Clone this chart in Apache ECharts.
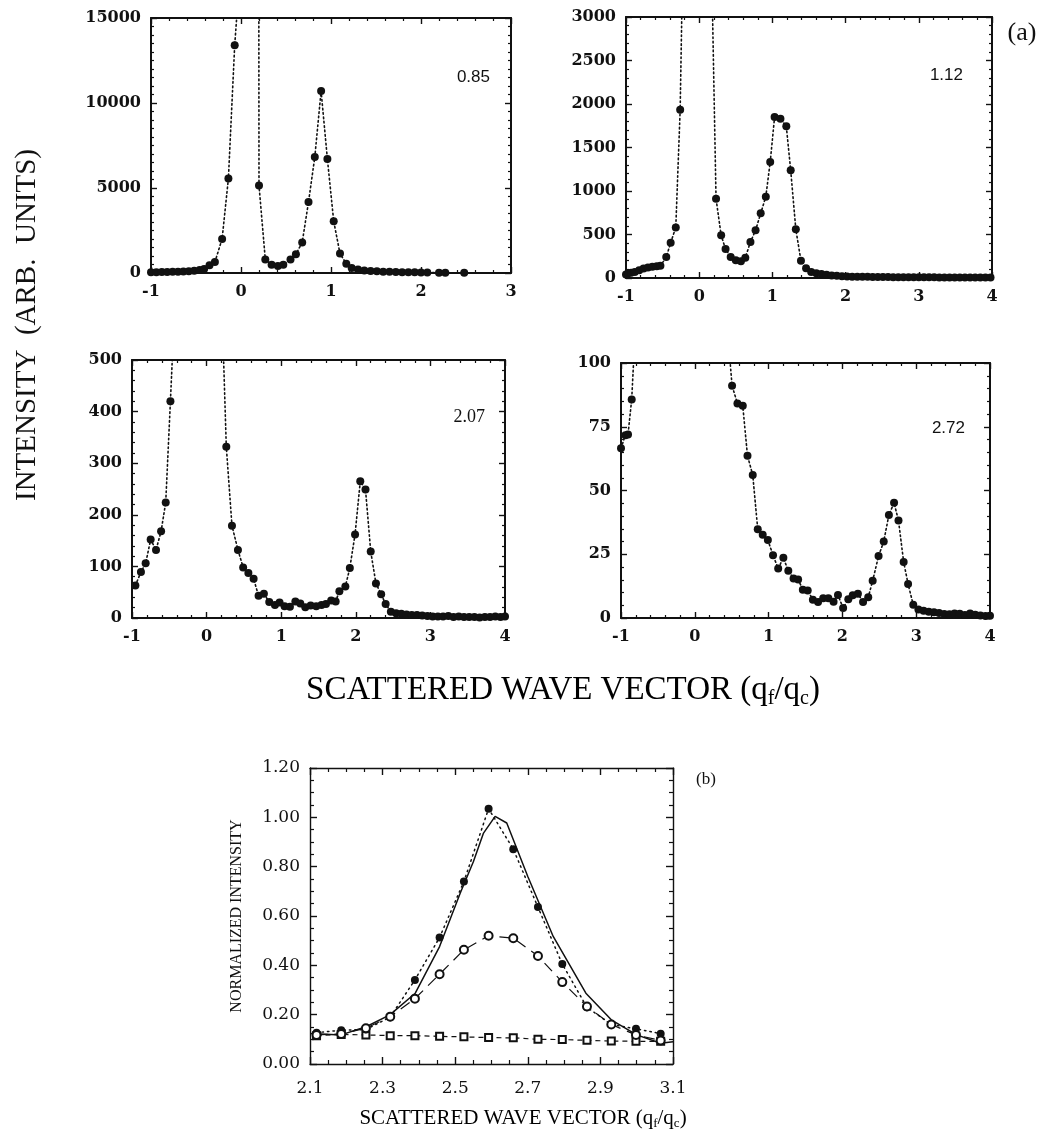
<!DOCTYPE html>
<html>
<head>
<meta charset="utf-8">
<script src="https://cdn.jsdelivr.net/npm/echarts@6/dist/echarts.min.js"></script>
<style>html,body{margin:0;padding:0;background:#fff}#c{width:1044px;height:1132px}</style>
</head>
<body>
<div id="c"></div>
<script>
// ---------- DATA ----------
// Panel (a) 0.85
const p1X = [-1.00,-0.94,-0.88,-0.82,-0.76,-0.70,-0.64,-0.58,-0.52,-0.46,-0.41,-0.35,-0.29,-0.21,-0.14,-0.07,0.00,0.07,0.13,0.20,0.27,0.34,0.41,0.47,0.55,0.61,0.68,0.75,0.82,0.89,0.96,1.03,1.10,1.17,1.23,1.30,1.37,1.44,1.51,1.58,1.65,1.72,1.79,1.86,1.93,2.00,2.07,2.20,2.27,2.48];
const p1Y = [40,50,55,60,70,80,90,110,130,170,240,450,650,2000,5560,13400,18500,400000,400000,5150,800,490,410,490,800,1100,1800,4170,6820,10700,6700,3050,1140,550,300,200,150,120,100,80,70,60,50,45,40,35,30,20,15,10];
// Panel (a) 1.12
const p2X = [-1.00,-0.97,-0.93,-0.88,-0.82,-0.76,-0.70,-0.64,-0.58,-0.53,-0.45,-0.39,-0.32,-0.26,-0.19,-0.12,-0.05,0.03,0.10,0.165,0.23,0.30,0.36,0.43,0.50,0.57,0.63,0.70,0.77,0.84,0.91,0.97,1.03,1.11,1.19,1.25,1.32,1.39,1.46,1.53,1.60,1.67,1.74,1.81,1.88,1.95,2.02,2.09,2.16,2.23,2.30,2.37,2.44,2.51,2.58,2.65,2.72,2.79,2.86,2.93,3.00,3.07,3.14,3.21,3.28,3.35,3.42,3.49,3.56,3.63,3.70,3.77,3.84,3.91,3.98];
const p2Y = [40,55,60,70,90,110,120,130,135,140,240,405,580,1935,5370,30000,200000,300000,60000,3800,912,490,333,241,203,192,234,414,548,743,935,1333,1851,1831,1743,1238,559,199,111,70,55,45,38,30,25,20,18,15,14,14,13,12,12,11,11,10,10,10,9,9,9,8,8,8,7,7,7,7,6,6,6,6,5,5,5];
// Panel (a) 2.07
const p3X = [-0.955,-0.88,-0.817,-0.75,-0.678,-0.61,-0.548,-0.485,-0.42,-0.35,-0.28,-0.21,-0.14,-0.07,0.00,0.06,0.13,0.195,0.264,0.34,0.42,0.49,0.56,0.63,0.697,0.768,0.84,0.916,0.978,1.045,1.117,1.19,1.256,1.323,1.395,1.47,1.54,1.60,1.67,1.73,1.78,1.86,1.92,1.99,2.06,2.13,2.20,2.27,2.34,2.40,2.47,2.54,2.61,2.68,2.75,2.82,2.89,2.96,3.03,3.10,3.17,3.24,3.31,3.38,3.45,3.52,3.59,3.66,3.73,3.80,3.87,3.94,4.00];
const p3Y = [63,89,106,152,132,168,224,420,630,1500,4500,20000,100000,300000,100000,10000,1500,655,332,179,132,98,87,76,43,47,31,25,30,23,22,32,28,21,24,23,25,27,34,32,52,61,97,162,265,249,129,67,46,27,12,9,8,7,6,6,5,4,3,3,3,4,2,3,2,2,2,1,2,2,3,2,3];
// Panel (a) 2.72
const p4X = [-1.00,-0.94,-0.905,-0.855,-0.79,-0.72,-0.65,-0.58,-0.51,-0.44,-0.37,-0.30,-0.23,-0.16,-0.09,-0.02,0.05,0.12,0.19,0.26,0.33,0.40,0.44,0.505,0.578,0.65,0.714,0.785,0.853,0.92,0.99,1.06,1.13,1.20,1.267,1.338,1.40,1.464,1.53,1.60,1.67,1.74,1.81,1.88,1.94,2.01,2.08,2.14,2.21,2.28,2.35,2.41,2.49,2.56,2.63,2.70,2.76,2.83,2.89,2.96,3.03,3.10,3.17,3.24,3.31,3.38,3.45,3.52,3.59,3.66,3.73,3.80,3.87,3.94,4.00];
const p4Y = [66.6,71.7,72,85.7,123,240,500,1200,3000,8000,20000,50000,100000,200000,400000,500000,300000,50000,5000,800,250,150,114,91.1,84.1,83.2,63.6,56.1,34.8,32.6,30.6,24.6,19.4,23.6,18.5,15.5,15.1,11.1,10.8,7.2,6.3,7.7,7.7,6.4,9,3.9,7.4,8.9,9.5,6.3,8.1,14.6,24.3,30,40.4,45.2,38.2,22,13.3,5.2,3.3,2.8,2.5,2.3,2.0,1.6,1.5,1.8,1.7,1.2,1.8,1.3,1.0,0.8,0.9];
const panelTags = ['0.85','1.12','2.07','2.72'];

// Panel (b)
const qB = [2.118,2.186,2.254,2.321,2.389,2.457,2.524,2.592,2.660,2.728,2.795,2.863,2.930,2.998,3.066];
const filledB = [0.127,0.137,0.140,0.190,0.341,0.513,0.740,1.035,0.871,0.636,0.405,0.230,0.160,0.143,0.123];
const openB   = [0.118,0.122,0.145,0.192,0.265,0.364,0.463,0.520,0.510,0.438,0.332,0.233,0.160,0.118,0.095];
const squareB = [0.115,0.120,0.118,0.115,0.115,0.112,0.110,0.107,0.106,0.100,0.099,0.096,0.093,0.092,0.092];
const fitX = [2.10,2.186,2.256,2.32,2.39,2.457,2.514,2.55,2.578,2.61,2.642,2.70,2.77,2.86,2.93,3.00,3.066,3.10];
const fitY = [0.124,0.118,0.152,0.199,0.287,0.476,0.693,0.82,0.936,1.004,0.977,0.760,0.517,0.287,0.179,0.118,0.084,0.090];

// ---------- LAYOUT ----------
const INK = '#111';
const grids = [
  {left:151, top:18, width:360, height:255},
  {left:626, top:17, width:366, height:261},
  {left:132, top:360, width:373, height:258},
  {left:621, top:363, width:369, height:255},
  {left:310, top:768, width:363, height:296}
];
const xRanges = [[-1,3,1],[-1,4,1],[-1,4,1],[-1,4,1],[2.1,3.1,0.2]];
const yRanges = [[0,15000,5000],[0,3000,500],[0,500,100],[0,100,25],[0,1.2,0.2]];
const xMinor = [5,5,5,5,4];
const yMinor = [10,5,5,5,4];

const zip = (a,b) => a.map((v,i)=>[v,b[i]]);
const xAxes = [], yAxes = [];
grids.forEach((g,gi)=>{
  const isB = gi===4;
  const lw = isB ? 1.4 : 2;
  const labA = {fontFamily:'DejaVu Serif', fontWeight:'bold', fontSize:16, color:INK};
  const labB = {fontFamily:'DejaVu Serif', fontSize:17, color:INK};
  const lab = isB ? labB : labA;
  ['bottom','top'].forEach((pos,k)=>{
    xAxes.push({
      gridIndex:gi, type:'value', position:pos,
      min:xRanges[gi][0], max:xRanges[gi][1], interval:xRanges[gi][2],
      axisLine:{show:true,onZero:false,lineStyle:{color:INK,width:lw}},
      axisTick:{show:true,inside:true,length:isB?7:6,lineStyle:{color:INK,width:1.4}},
      minorTick:{show:true,splitNumber:xMinor[gi],length:isB?4:3,lineStyle:{color:INK,width:1.2}},
      splitLine:{show:false}, minorSplitLine:{show:false},
      axisLabel:Object.assign({show:k===0, margin:isB?16:11,
        formatter:v=> isB ? v.toFixed(1) : String(Math.round(v))}, lab)
    });
  });
  ['left','right'].forEach((pos,k)=>{
    yAxes.push({
      gridIndex:gi, type:'value', position:pos,
      min:yRanges[gi][0], max:yRanges[gi][1], interval:yRanges[gi][2],
      axisLine:{show:true,onZero:false,lineStyle:{color:INK,width:lw}},
      axisTick:{show:true,inside:true,length:isB?7:6,lineStyle:{color:INK,width:1.4}},
      minorTick:{show:true,splitNumber:yMinor[gi],length:isB?4:3,lineStyle:{color:INK,width:1.2}},
      splitLine:{show:false}, minorSplitLine:{show:false},
      axisLabel:Object.assign({show:k===0, margin:10,
        formatter:v=> isB ? v.toFixed(2) : String(Math.round(v))}, lab)
    });
  });
});

const dotted = {color:INK, width:1.6, type:[1.6,2.8], cap:'round'};
const panelData = [[p1X,p1Y],[p2X,p2Y],[p3X,p3Y],[p4X,p4Y]];
const series = panelData.map((d,i)=>({
  type:'line', xAxisIndex:i*2, yAxisIndex:i*2, data:zip(d[0],d[1]),
  symbol:'circle', symbolSize:8, itemStyle:{color:INK},
  lineStyle:dotted, clip:true, silent:true, z:3
}));
series.push(
  {type:'line', xAxisIndex:8, yAxisIndex:8, data:zip(fitX,fitY), symbol:'none',
   lineStyle:{color:INK,width:1.5}, clip:true, z:2},
  {type:'line', xAxisIndex:8, yAxisIndex:8, data:zip(qB,squareB), symbol:'emptyRect', symbolSize:7,
   itemStyle:{color:INK, borderWidth:1.2}, lineStyle:{color:INK,width:1.2,type:[5,4]}, z:3},
  {type:'line', xAxisIndex:8, yAxisIndex:8, data:zip(qB,filledB), symbol:'circle', symbolSize:8,
   itemStyle:{color:INK}, lineStyle:{color:INK,width:1.5,type:[1.5,4],cap:'round'}, z:4},
  {type:'line', xAxisIndex:8, yAxisIndex:8, data:zip(qB,openB), symbol:'emptyCircle', symbolSize:8,
   itemStyle:{color:INK, borderWidth:1.2}, lineStyle:{color:INK,width:1.2,type:[11,7]}, z:5}
);

const tagPos = [[490,77,'Liberation Sans',17],[963,75,'Liberation Sans',17],[485,417,'Liberation Serif',18],[965,428,'Liberation Sans',17]];
const graphic = panelTags.map((t,i)=>({
  type:'text', x:tagPos[i][0], y:tagPos[i][1],
  style:{text:t, align:'right', verticalAlign:'middle', fill:INK, font:`${tagPos[i][3]}px "${tagPos[i][2]}"`}
}));
const subRich = (fs, lh) => ({
  a:{fontFamily:'Liberation Serif', fontSize:fs, lineHeight:lh, color:INK},
  s:{fontFamily:'Liberation Serif', fontSize:Math.round(fs*0.62), lineHeight:Math.round(fs*0.62), verticalAlign:'bottom', color:INK}
});
graphic.push(
  {type:'text', x:1022, y:33, style:{text:'(a)', align:'center', verticalAlign:'middle', fill:INK, font:'26px "Liberation Serif"'}},
  {type:'text', x:706, y:780, style:{text:'(b)', align:'center', verticalAlign:'middle', fill:INK, font:'17px "Liberation Serif"'}},
  {type:'text', x:27, y:325, rotation:Math.PI/2,
   style:{text:'INTENSITY  (ARB.  UNITS)', align:'center', verticalAlign:'middle', fill:INK, font:'29px "Liberation Serif"'}},
  {type:'text', x:237, y:916, rotation:Math.PI/2,
   style:{text:'NORMALIZED INTENSITY', align:'center', verticalAlign:'middle', fill:INK, font:'16px "Liberation Serif"'}},
  {type:'text', x:563, y:690,
   style:{text:'{a|SCATTERED WAVE VECTOR (q}{s|f}{a|/q}{s|c}{a|)}', align:'center', verticalAlign:'middle', rich:subRich(33,38)}},
  {type:'text', x:523, y:1118,
   style:{text:'{a|SCATTERED WAVE VECTOR (q}{s|f}{a|/q}{s|c}{a|)}', align:'center', verticalAlign:'middle', rich:subRich(21,24)}}
);

const chart = echarts.init(document.getElementById('c'), null, {renderer:'canvas'});
chart.setOption({
  animation:false,
  backgroundColor:'#fff',
  grid:grids.map(g=>Object.assign({containLabel:false}, g)),
  xAxis:xAxes, yAxis:yAxes, series, graphic
});
</script>
</body>
</html>
